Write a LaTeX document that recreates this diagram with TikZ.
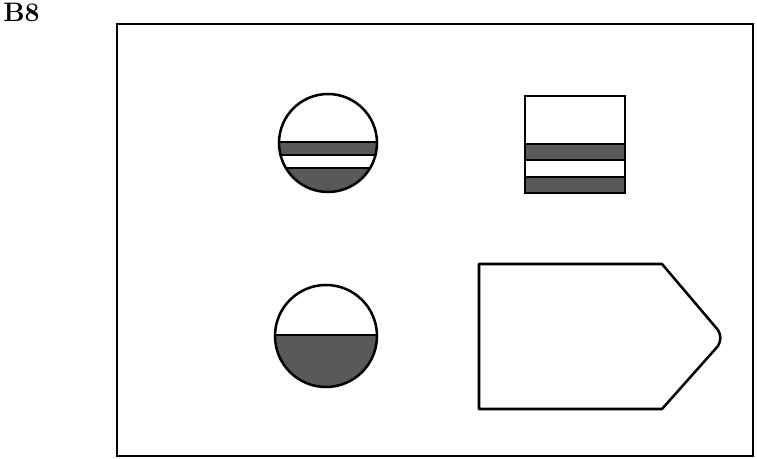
\documentclass[tikz,border=0pt]{standalone}
\begin{document}
\begin{tikzpicture}[x=0.025cm, y=-0.025cm]
  \tikzset{outline/.style={line width=1.8pt}, band/.style={fill=black!65}}
  \useasboundingbox (0,0) rectangle (757,459);

  \node[anchor=west, inner sep=0pt, font=\bfseries\fontsize{19}{22}\selectfont] (label) at (3,12) {B8};

  \draw[outline] (117,24) rectangle (753,456);

  % upper circle with two bands
  \begin{scope}
    \clip (328,143) circle (49);
    \fill[band] (270,142) rectangle (390,155);
    \fill[band] (270,168) rectangle (390,200);
    \draw[thick] (270,142) -- (390,142);
    \draw[thick] (270,155) -- (390,155);
    \draw[thick] (270,168) -- (390,168);
  \end{scope}
  \draw[outline] (328,143) circle (49);

  % lower circle, half filled
  \begin{scope}
    \clip (326,336) circle (51);
    \fill[band] (270,335) rectangle (390,395);
    \draw[thick] (270,335) -- (390,335);
  \end{scope}
  \draw[outline] (326,336) circle (51);

  % square with two bands
  \fill[band] (525,144) rectangle (625,160);
  \fill[band] (525,177) rectangle (625,193);
  \draw[thick] (525,144) -- (625,144);
  \draw[thick] (525,160) -- (625,160);
  \draw[thick] (525,177) -- (625,177);
  \draw[outline] (525,96) rectangle (625,193);

  % pentagon
  \draw[outline, line join=round] (479,264) -- (662,264) -- (718,330) to[out=-60,in=60] (718,346) -- (662,409) -- (479,409) -- cycle;
\end{tikzpicture}
\end{document}
